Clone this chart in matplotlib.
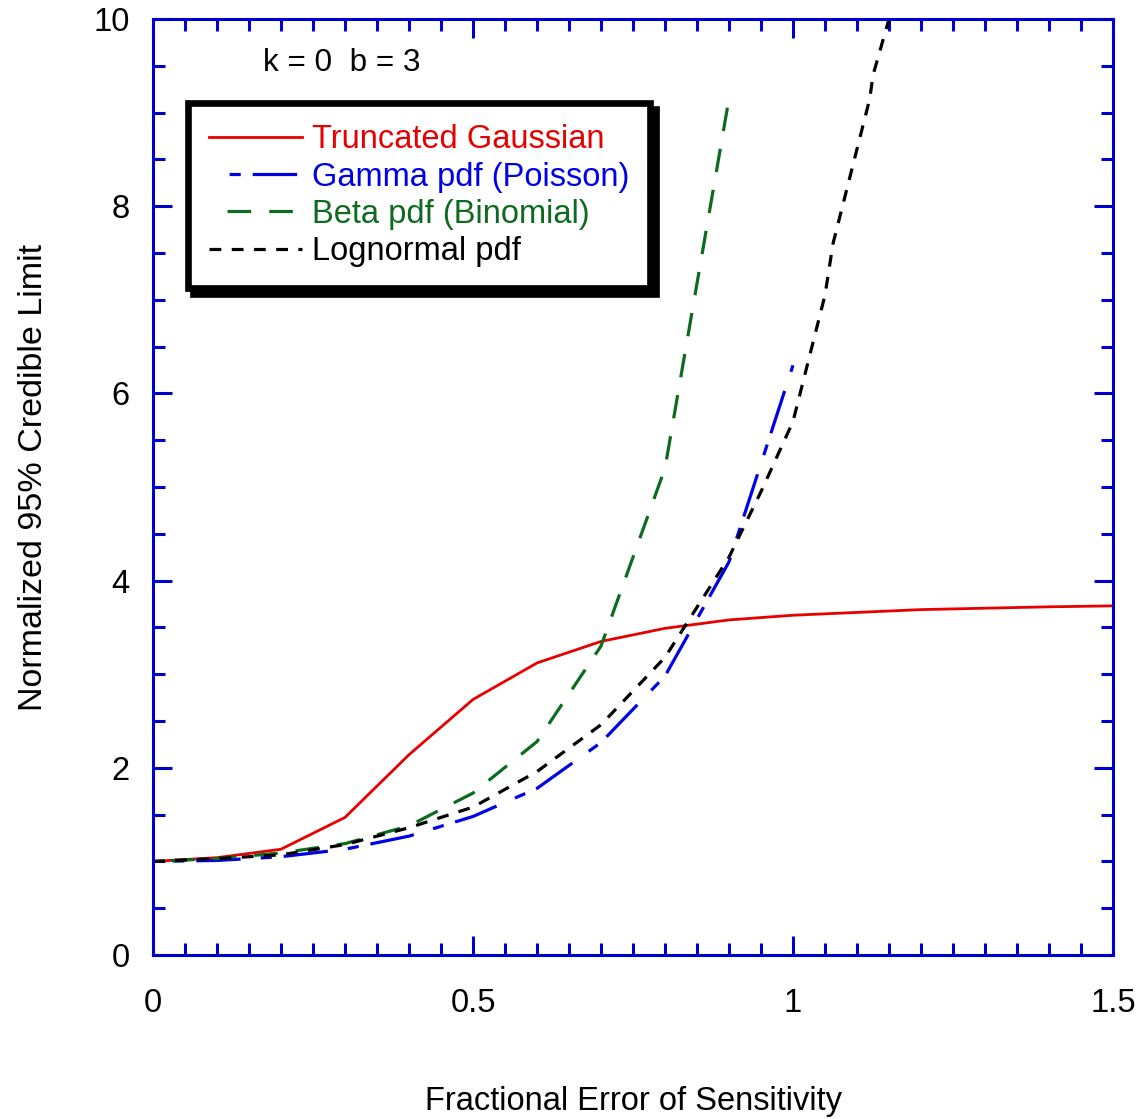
import matplotlib
matplotlib.use("Agg")
import matplotlib.pyplot as plt
from matplotlib.ticker import MultipleLocator

plt.rcParams['font.family'] = ['Liberation Sans', 'DejaVu Sans']
plt.rcParams['lines.scale_dashes'] = False

# data
x_gauss = [0, 0.1, 0.2, 0.3, 0.4, 0.5, 0.6, 0.7, 0.8, 0.9, 1.0, 1.2, 1.4, 1.5]
y_gauss = [1.0, 1.04, 1.13, 1.47, 2.14, 2.73, 3.12, 3.35, 3.49, 3.58, 3.63, 3.69, 3.72, 3.73]

x_gamma = [0, 0.1, 0.2, 0.3, 0.4, 0.5, 0.6, 0.7, 0.8, 0.9, 1.0]
y_gamma = [1.0, 1.01, 1.05, 1.13, 1.27, 1.48, 1.78, 2.27, 2.98, 4.2, 6.3]

x_beta = [0, 0.1, 0.2, 0.3, 0.4, 0.5, 0.6, 0.7, 0.8, 0.9]
y_beta = [1.0, 1.03, 1.09, 1.19, 1.38, 1.73, 2.28, 3.3, 5.2, 9.15]

x_logn = [0, 0.1, 0.2, 0.3, 0.4, 0.5, 0.6, 0.7, 0.8, 0.9, 0.95, 1.0,
          1.05, 1.0625, 1.12, 1.125, 1.15]
y_logn = [1.0, 1.03, 1.07, 1.18, 1.36, 1.58, 1.96, 2.46, 3.18, 4.25, 4.95, 5.7,
          7.05, 7.6, 9.15, 9.4, 10.0]

labels = ["Truncated Gaussian", "Gamma pdf (Poisson)", "Beta pdf (Binomial)", "Lognormal pdf"]
colors = ["#e60000", "#0000e6", "#0d6b1f", "black"]

axis_blue = "#0000cc"
fs = 23.5

fig = plt.figure(figsize=(11.42, 11.19), dpi=100)
ax = fig.add_axes([153 / 1142, 1 - 955 / 1119, 960 / 1142, 936 / 1119])

ax.plot(x_gauss, y_gauss, color=colors[0], lw=2.0, label=labels[0])
ax.plot(x_gamma, y_gamma, color=colors[1], lw=2.3, label=labels[1],
        linestyle=(32, (32, 14.5, 8, 8.6)))
ax.plot(x_beta, y_beta, color=colors[2], lw=2.3, label=labels[2],
        linestyle=(17, (17, 13)))
ax.plot(x_logn, y_logn, color=colors[3], lw=2.3, label=labels[3],
        linestyle=(0, (8.5, 7.5)))

ax.set_xlim(0, 1.5)
ax.set_ylim(0, 10)
ax.xaxis.set_major_locator(MultipleLocator(0.5))
ax.xaxis.set_minor_locator(MultipleLocator(0.05))
ax.yaxis.set_major_locator(MultipleLocator(2))
ax.yaxis.set_minor_locator(MultipleLocator(0.5))
ax.set_xticks([0, 0.5, 1, 1.5])
ax.set_xticklabels(["0", "0.5", "1", "1.5"])

for s in ax.spines.values():
    s.set_color(axis_blue)
    s.set_linewidth(2.2)
ax.tick_params(which='both', direction='in', top=True, right=True,
               color=axis_blue, width=2.2, labelsize=fs)
ax.tick_params(which='major', length=14)
ax.tick_params(which='minor', length=8.5)
ax.tick_params(axis='x', which='major', pad=24)
ax.tick_params(axis='y', which='major', pad=17)

ax.set_xlabel("Fractional Error of Sensitivity", fontsize=fs)
ax.set_ylabel("Normalized 95% Credible Limit", fontsize=24.5)
ax.xaxis.set_label_coords(0.501, -0.14)
ax.yaxis.set_label_coords(-0.108, 0.51)

ax.text(0.172, 9.53, "k = 0  b = 3", fontsize=22.7, ha='left', va='center')

leg = ax.legend(loc='upper left', bbox_to_anchor=(0.036, 0.91), borderaxespad=0,
                fontsize=fs, handlelength=2.85, handletextpad=0.3,
                labelspacing=0.19, borderpad=0.65, fancybox=False,
                framealpha=1, edgecolor='black',
                shadow={'ox': 4, 'oy': -4, 'color': 'black', 'alpha': 1})
leg.get_frame().set_linewidth(4.8)
for t, c in zip(leg.get_texts(), colors):
    t.set_color(c)

fig.savefig("out.png", dpi=100)
